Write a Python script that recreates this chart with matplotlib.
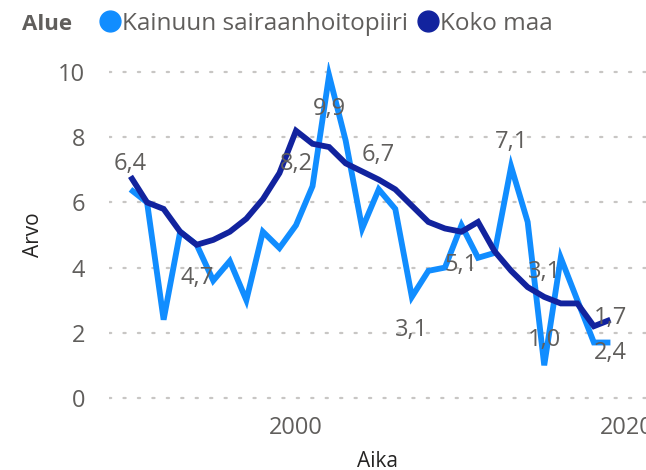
import matplotlib
matplotlib.use('Agg')
import matplotlib.pyplot as plt
from matplotlib.lines import Line2D

# Vuosittaiset arvot
years = list(range(1990, 2020))
kainuu = [6.4, 6.0, 2.4, 5.1, 4.7, 3.6, 4.2, 3.0, 5.1, 4.6,
          5.3, 6.5, 9.9, 7.9, 5.2, 6.4, 5.8, 3.1, 3.9, 4.0,
          5.3, 4.3, 4.45, 7.1, 5.4, 1.0, 4.3, 3.0, 1.7, 1.7]
koko_maa = [6.8, 6.0, 5.8, 5.1, 4.7, 4.85, 5.1, 5.5, 6.1, 6.9,
            8.2, 7.8, 7.7, 7.2, 6.95, 6.7, 6.4, 5.9, 5.4, 5.2,
            5.1, 5.4, 4.5, 3.9, 3.4, 3.1, 2.9, 2.9, 2.2, 2.4]
series_names = ['Kainuun sairaanhoitopiiri', 'Koko maa']
colors = ['#118DFF', '#12239E']

# arvolabelit: (sarja, vuosi, 'above'/'below')
labels = [
    (0, 1990, 'above'), (1, 2000, 'below'), (0, 2002, 'below'),
    (1, 2005, 'above'), (0, 2013, 'above'), (1, 1994, 'below'),
    (0, 2007, 'below'), (1, 2010, 'below'), (1, 2015, 'above'),
    (0, 2015, 'above'), (0, 2019, 'above'), (1, 2019, 'below'),
]

yticks = [0, 2, 4, 6, 8, 10]
xticks = [2000, 2020]

plt.rcParams['font.family'] = ['Open Sans', 'DejaVu Sans']
grey = '#605E5C'

fig = plt.figure(figsize=(6.46, 4.70), dpi=100)
ax = fig.add_axes([109 / 646, 1 - 408 / 470, 537 / 646, 346 / 470])

data = [kainuu, koko_maa]
for vals, c in zip(data, colors):
    ax.plot(years, vals, color=c, lw=4.2, solid_joinstyle='miter',
            solid_capstyle='butt', zorder=3)

for s, yr, pos in labels:
    v = data[s][years.index(yr)]
    dy = 18 if pos == 'above' else -24
    ax.annotate(f'{v:.1f}'.replace('.', ','), (yr, v), xytext=(0, dy),
                textcoords='offset points', ha='center', va='center',
                fontsize=17, color=grey, zorder=4)

ax.set_xlim(1988.7, 2021.15)
ax.set_ylim(-0.31, 10.31)
ax.set_yticks(yticks)
ax.set_xticks(xticks)
ax.tick_params(length=0, labelsize=17, labelcolor=grey)
ax.tick_params(axis='y', pad=17)
ax.tick_params(axis='x', pad=6)
ax.grid(axis='y', color='#C8C6C4', lw=1.6, linestyle=(0, (1, 5.5)),
        dash_capstyle='round')
ax.set_axisbelow(True)
for sp in ax.spines.values():
    sp.set_visible(False)

ax.set_ylabel('Arvo', fontsize=15, color='#252423', labelpad=10)
ax.set_xlabel('Aika', fontsize=15, color='#252423', labelpad=8)

# legenda yläreunaan
fig.text(22 / 646, 1 - 24 / 470, 'Alue', fontsize=16, fontweight='bold',
         color=grey, ha='left', va='center')
handles = [Line2D([], [], marker='o', ls='', color=c, markersize=15)
           for c in colors]
fig.legend(handles, series_names, loc='center left', ncol=2,
           bbox_to_anchor=(86 / 646, 1 - 24 / 470), frameon=False,
           fontsize=17.5, labelcolor=grey, handletextpad=0.0,
           columnspacing=0.3, borderpad=0, handlelength=1.0)

fig.savefig('out.png', dpi=100)
